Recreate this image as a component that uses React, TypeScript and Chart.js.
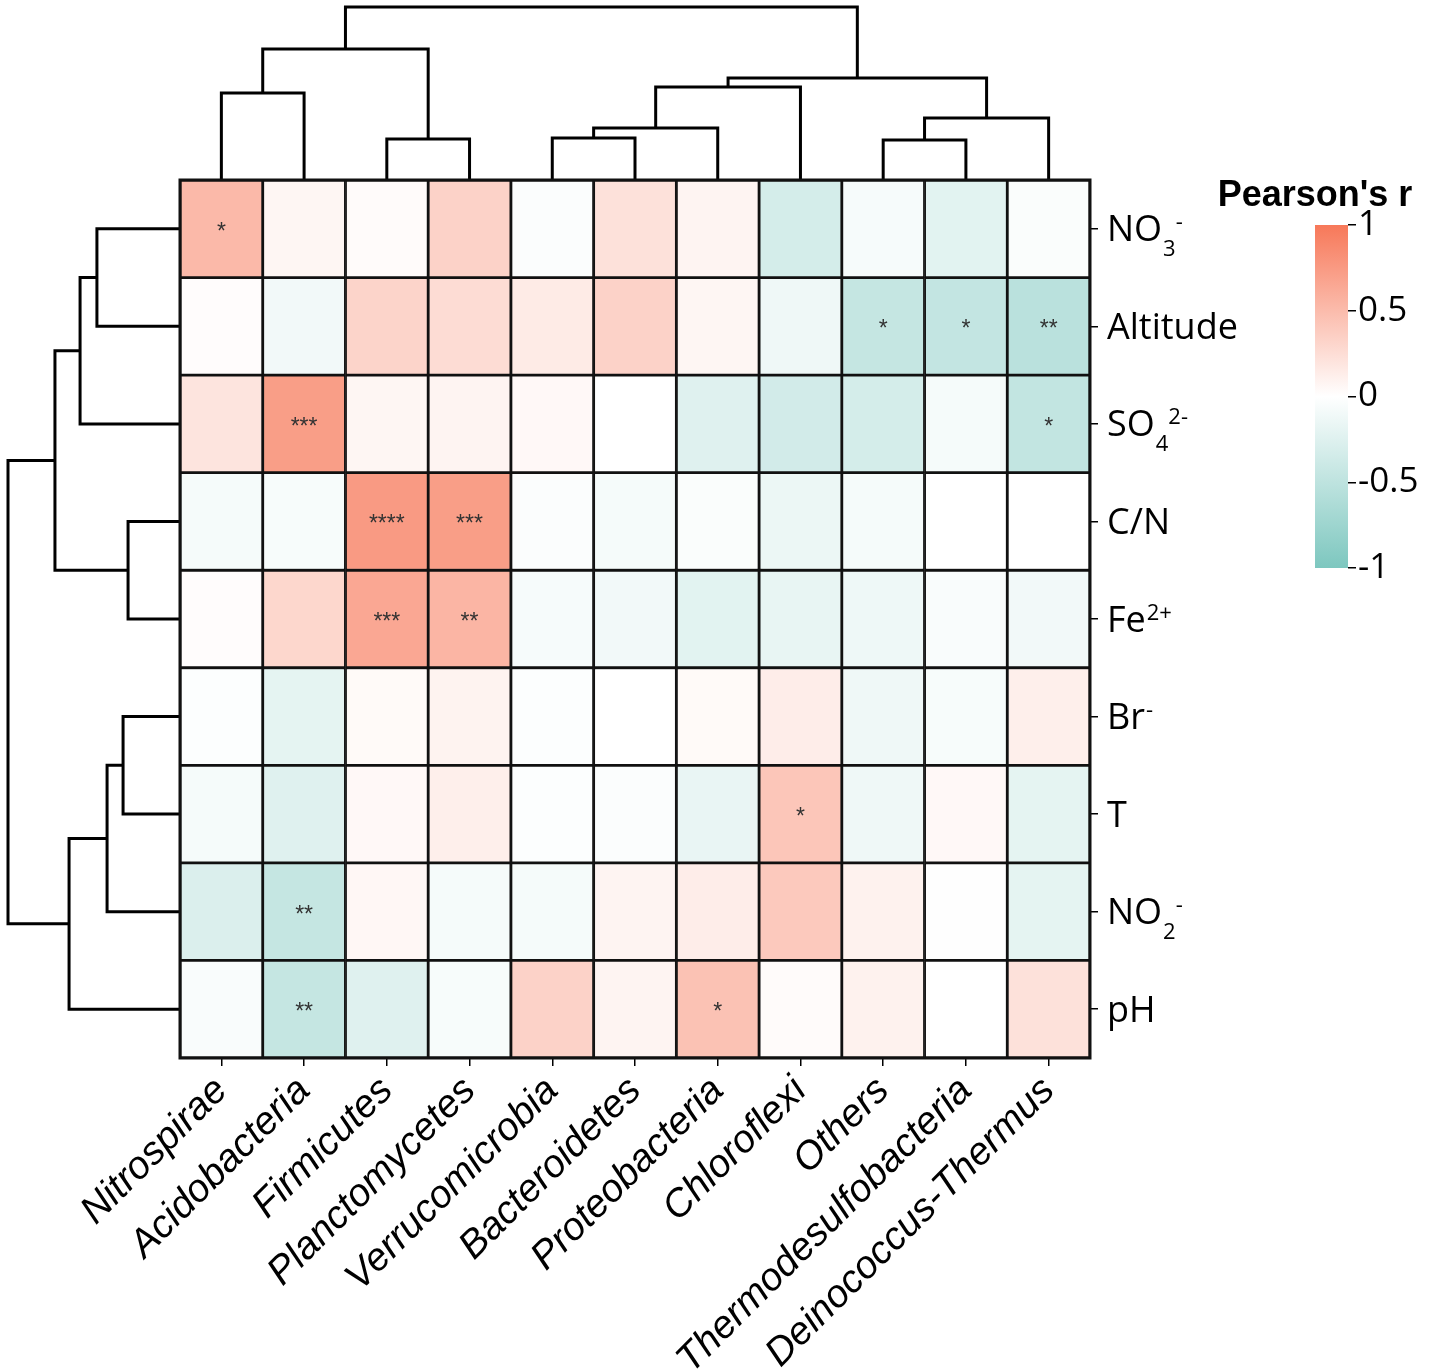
import React, { useEffect, useRef } from 'react';
import { Chart, registerables } from 'chart.js';

Chart.register(...registerables);

// ---------- data ----------
const phyla = [
  'Nitrospirae', 'Acidobacteria', 'Firmicutes', 'Planctomycetes', 'Verrucomicrobia',
  'Bacteroidetes', 'Proteobacteria', 'Chloroflexi', 'Others', 'Thermodesulfobacteria',
  'Deinococcus-Thermus',
];
const factorBase = ['NO', 'Altitude', 'SO', 'C/N', 'Fe', 'Br', 'T', 'NO', 'pH'];
const factorSub = ['3', '', '4', '', '', '', '', '2', ''];
const factorSup = ['-', '', '2-', '', '2+', '-', '', '-', ''];

const rNO3 = [0.52, 0.07, 0.03, 0.33, -0.03, 0.22, 0.08, -0.33, -0.07, -0.22, -0.04];
const rAltitude = [0.02, -0.1, 0.32, 0.26, 0.15, 0.33, 0.07, -0.12, -0.45, -0.46, -0.53];
const rSO4 = [0.2, 0.72, 0.07, 0.08, 0.05, 0.0, -0.25, -0.35, -0.33, -0.08, -0.47];
const rCN = [-0.08, -0.06, 0.75, 0.72, -0.03, -0.08, -0.04, -0.15, -0.08, 0.0, 0.0];
const rFe = [0.02, 0.3, 0.65, 0.55, -0.07, -0.1, -0.22, -0.18, -0.13, -0.05, -0.1];
const rBr = [-0.02, -0.2, 0.04, 0.09, -0.02, 0.0, 0.04, 0.13, -0.12, -0.06, 0.12];
const rT = [-0.08, -0.25, 0.05, 0.12, -0.02, -0.03, -0.17, 0.42, -0.12, 0.05, -0.2];
const rNO2 = [-0.28, -0.45, 0.06, -0.08, -0.08, 0.08, 0.13, 0.4, 0.1, -0.01, -0.2];
const rPH = [-0.05, -0.45, -0.25, -0.06, 0.33, 0.08, 0.45, 0.03, 0.1, 0.0, 0.22];
const rMatrix = [rNO3, rAltitude, rSO4, rCN, rFe, rBr, rT, rNO2, rPH];

const sNO3 = ['*', '', '', '', '', '', '', '', '', '', ''];
const sAltitude = ['', '', '', '', '', '', '', '', '*', '*', '**'];
const sSO4 = ['', '***', '', '', '', '', '', '', '', '', '*'];
const sCN = ['', '', '****', '***', '', '', '', '', '', '', ''];
const sFe = ['', '', '***', '**', '', '', '', '', '', '', ''];
const sBr = ['', '', '', '', '', '', '', '', '', '', ''];
const sT = ['', '', '', '', '', '', '', '*', '', '', ''];
const sNO2 = ['', '**', '', '', '', '', '', '', '', '', ''];
const sPH = ['', '**', '', '', '', '', '*', '', '', '', ''];
const sigMatrix = [sNO3, sAltitude, sSO4, sCN, sFe, sBr, sT, sNO2, sPH];

// dendrogram merges: [childA, childB, height] (scipy-like indices, leaves first)
const colMerges: [number, number, number][] = [
  [0, 1, 0.503], [2, 3, 0.237], [11, 12, 0.757], [4, 5, 0.243], [14, 6, 0.3],
  [15, 7, 0.538], [8, 9, 0.231], [17, 10, 0.358], [16, 18, 0.59], [13, 19, 1.0],
];
const rowMerges: [number, number, number][] = [
  [0, 1, 0.483], [9, 2, 0.581], [3, 4, 0.302], [10, 11, 0.727], [5, 6, 0.331],
  [13, 7, 0.424], [14, 8, 0.645], [12, 15, 1.0],
];

const colorbarTicks = [-1, -0.5, 0, 0.5, 1];
const colorbarTitle = "Pearson's r";

// ---------- helpers ----------
const HIGH = [247, 120, 89];
const LOW = [125, 199, 191];
function rColor(v: number) {
  const t = Math.min(1, Math.abs(v));
  const c = v >= 0 ? HIGH : LOW;
  const ch = (k: number) => Math.round(255 + (c[k] - 255) * t);
  return `rgb(${ch(0)},${ch(1)},${ch(2)})`;
}

function dendroSegments(n: number, merges: [number, number, number][]) {
  const pos: number[] = Array.from({ length: n }, (_, i) => i);
  const ht: number[] = Array(n).fill(0);
  const segs: [number, number][][] = [];
  merges.forEach(([a, b, h]) => {
    segs.push([[pos[a], ht[a]], [pos[a], h], [pos[b], h], [pos[b], ht[b]]]);
    pos.push((pos[a] + pos[b]) / 2);
    ht.push(h);
  });
  return segs;
}

const overlayPlugin = {
  id: 'heatOverlay',
  afterDatasetsDraw(chart: any) {
    const { ctx, scales } = chart;
    const xs = scales.x;
    const ys = scales.y;
    const x0 = xs.getPixelForValue(-0.5);
    const x1 = xs.getPixelForValue(phyla.length - 0.5);
    const y0 = ys.getPixelForValue(-0.5);
    const y1 = ys.getPixelForValue(factorBase.length - 0.5);
    ctx.save();
    ctx.strokeStyle = '#111';
    ctx.lineWidth = 3;
    ctx.strokeRect(x0, y0, x1 - x0, y1 - y0);

    // significance stars
    ctx.fillStyle = '#333';
    ctx.font = '23px "Liberation Sans"';
    ctx.textAlign = 'center';
    ctx.textBaseline = 'alphabetic';
    sigMatrix.forEach((row, i) => {
      row.forEach((s, j) => {
        if (!s) return;
        ctx.fillText(s, xs.getPixelForValue(j), ys.getPixelForValue(i) + 10);
      });
    });

    // row labels with sub/superscripts
    ctx.fillStyle = '#000';
    ctx.textAlign = 'left';
    factorBase.forEach((b, i) => {
      const cy = ys.getPixelForValue(i);
      const base = cy + 12.5;
      let x = x1 + 17;
      ctx.font = '36px "Open Sans"';
      ctx.fillText(b, x, base);
      x += ctx.measureText(b).width + 1;
      ctx.font = '22px "Open Sans"';
      let subW = 0;
      if (factorSub[i]) {
        ctx.fillText(factorSub[i], x, base + 15);
        subW = ctx.measureText(factorSub[i]).width;
      }
      if (factorSup[i]) {
        ctx.fillText(factorSup[i], x + subW, base - 12);
      }
    });
    ctx.restore();
  },
};

const cbTitlePlugin = {
  id: 'cbTitle',
  afterDraw(chart: any) {
    const { ctx, chartArea } = chart;
    ctx.save();
    ctx.fillStyle = '#000';
    ctx.font = 'bold 36px "Liberation Sans"';
    ctx.textAlign = 'center';
    ctx.textBaseline = 'middle';
    ctx.fillText(colorbarTitle, chartArea.left, chartArea.top - 29);
    ctx.restore();
  },
};

// layout constants (pixels)
const W = 1430;
const H = 1370;
const HEAT_LEFT = 180;
const HEAT_RIGHT = 1090;
const HEAT_TOP = 180;
const HEAT_BOTTOM = 1058;
const DENDRO_LEFT = 8;
const DENDRO_TOP = 7;

export default function App() {
  const mainRef = useRef<HTMLCanvasElement>(null);
  const cbRef = useRef<HTMLCanvasElement>(null);

  useEffect(() => {
    const nCol = phyla.length;
    const nRow = factorBase.length;
    const colUnit = (HEAT_RIGHT - HEAT_LEFT) / nCol;
    const rowUnit = (HEAT_BOTTOM - HEAT_TOP) / nRow;
    const xMin = -0.5 - (HEAT_LEFT - DENDRO_LEFT) / colUnit;
    const yMin = -0.5 - (HEAT_TOP - DENDRO_TOP) / rowUnit;
    const topSpan = HEAT_TOP - DENDRO_TOP;
    const leftSpan = HEAT_LEFT - DENDRO_LEFT;

    const datasets: any[] = [];
    rMatrix.forEach((row, i) => {
      datasets.push({
        type: 'bar',
        data: row.map((_, j) => ({ x: j, y: [i - 0.5, i + 0.5] })),
        backgroundColor: row.map((v) => rColor(v)),
        borderColor: '#111',
        borderWidth: 1.75,
        borderSkipped: false,
        barPercentage: 1,
        categoryPercentage: 1,
        grouped: false,
        xAxisID: 'x',
        yAxisID: 'y',
      });
    });
    const lineStyle = {
      type: 'line',
      borderColor: '#000',
      borderWidth: 3,
      pointRadius: 0,
      fill: false,
      tension: 0,
      clip: false,
      borderJoinStyle: 'miter',
    };
    dendroSegments(nCol, colMerges).forEach((seg) => {
      datasets.push({
        ...lineStyle,
        data: seg.map(([p, h]) => ({ x: p, y: h })),
        xAxisID: 'x',
        yAxisID: 'dTop',
      });
    });
    dendroSegments(nRow, rowMerges).forEach((seg) => {
      datasets.push({
        ...lineStyle,
        data: seg.map(([p, h]) => ({ x: h, y: p })),
        xAxisID: 'dLeft',
        yAxisID: 'y',
      });
    });

    const main = new Chart(mainRef.current as HTMLCanvasElement, {
      type: 'bar',
      data: { datasets },
      plugins: [overlayPlugin],
      options: {
        responsive: false,
        animation: false,
        devicePixelRatio: 1,
        events: [],
        layout: { padding: { left: DENDRO_LEFT, top: DENDRO_TOP, right: 0, bottom: 0 } },
        plugins: { legend: { display: false }, tooltip: { enabled: false } },
        scales: {
          x: {
            type: 'linear',
            position: 'bottom',
            min: xMin,
            max: nCol - 0.5,
            offset: false,
            afterBuildTicks: (s: any) => {
              s.ticks = phyla.map((_, i) => ({ value: i }));
            },
            afterFit: (s: any) => {
              s.height = H - HEAT_BOTTOM;
            },
            ticks: {
              autoSkip: false,
              minRotation: 45,
              maxRotation: 45,
              padding: 2,
              color: '#000',
              font: { family: 'Liberation Sans', size: 39, style: 'italic' },
              callback: (v: any) => phyla[v as number],
            },
            grid: { drawOnChartArea: false, drawTicks: true, tickLength: 8, color: '#000', lineWidth: 1.5, offset: false },
            border: { display: false },
          },
          y: {
            type: 'linear',
            position: 'right',
            reverse: true,
            offset: false,
            min: yMin,
            max: nRow - 0.5,
            afterBuildTicks: (s: any) => {
              s.ticks = factorBase.map((_, i) => ({ value: i }));
            },
            afterFit: (s: any) => {
              s.width = W - HEAT_RIGHT;
            },
            ticks: { display: false },
            grid: { drawOnChartArea: false, drawTicks: true, tickLength: 8, color: '#000', lineWidth: 1.5 },
            border: { display: false },
          },
          dTop: {
            type: 'linear',
            axis: 'y',
            position: 'left',
            display: false,
            offset: false,
            min: -(HEAT_BOTTOM - HEAT_TOP) / topSpan,
            max: 1,
          },
          dLeft: {
            type: 'linear',
            axis: 'x',
            position: 'bottom',
            display: false,
            offset: false,
            reverse: true,
            min: -(HEAT_RIGHT - HEAT_LEFT) / leftSpan,
            max: 1,
          },
        },
      } as any,
    });

    const cb = new Chart(cbRef.current as HTMLCanvasElement, {
      type: 'bar',
      data: {
        labels: ['r'],
        datasets: [
          {
            data: [[colorbarTicks[0], colorbarTicks[colorbarTicks.length - 1]]],
            backgroundColor: (c: any) => {
              const ys = c.chart.scales.y;
              if (!ys) return rColor(0);
              const p0 = ys.getPixelForValue(-1);
              const p1 = ys.getPixelForValue(1);
              if (!isFinite(p0) || !isFinite(p1) || p0 === p1) return rColor(0);
              const g = c.chart.ctx.createLinearGradient(0, p0, 0, p1);
              g.addColorStop(0, rColor(-1));
              g.addColorStop(0.5, rColor(0));
              g.addColorStop(1, rColor(1));
              return g;
            },
            borderWidth: 0,
            barPercentage: 1,
            categoryPercentage: 1,
          } as any,
        ],
      },
      plugins: [cbTitlePlugin],
      options: {
        responsive: false,
        animation: false,
        devicePixelRatio: 1,
        events: [],
        layout: { padding: { left: 115, right: 0, top: 55, bottom: 30 } },
        plugins: {
          legend: { display: false },
          tooltip: { enabled: false },
          title: { display: false },
        },
        scales: {
          x: { display: false },
          y: {
            position: 'right',
            min: -1,
            max: 1,
            afterBuildTicks: (s: any) => {
              s.ticks = colorbarTicks.map((v) => ({ value: v }));
            },
            afterFit: (s: any) => {
              s.width = 82;
            },
            ticks: {
              color: '#000',
              padding: 2,
              font: { family: 'Open Sans', size: 35 },
              callback: (v: any) => String(v),
            },
            grid: { drawOnChartArea: false, drawTicks: true, tickLength: 8, color: '#000', lineWidth: 1.5 },
            border: { display: false },
          },
        },
      } as any,
    });
    cb.update();

    return () => {
      main.destroy();
      cb.destroy();
    };
  }, []);

  return (
    <div style={{ position: 'absolute', left: 0, top: 0, width: W, height: H, background: '#fff' }}>
      <canvas ref={mainRef} width={W} height={H} style={{ position: 'absolute', left: 0, top: 0 }} />
      <canvas ref={cbRef} width={230} height={428} style={{ position: 'absolute', left: 1200, top: 170 }} />
    </div>
  );
}
